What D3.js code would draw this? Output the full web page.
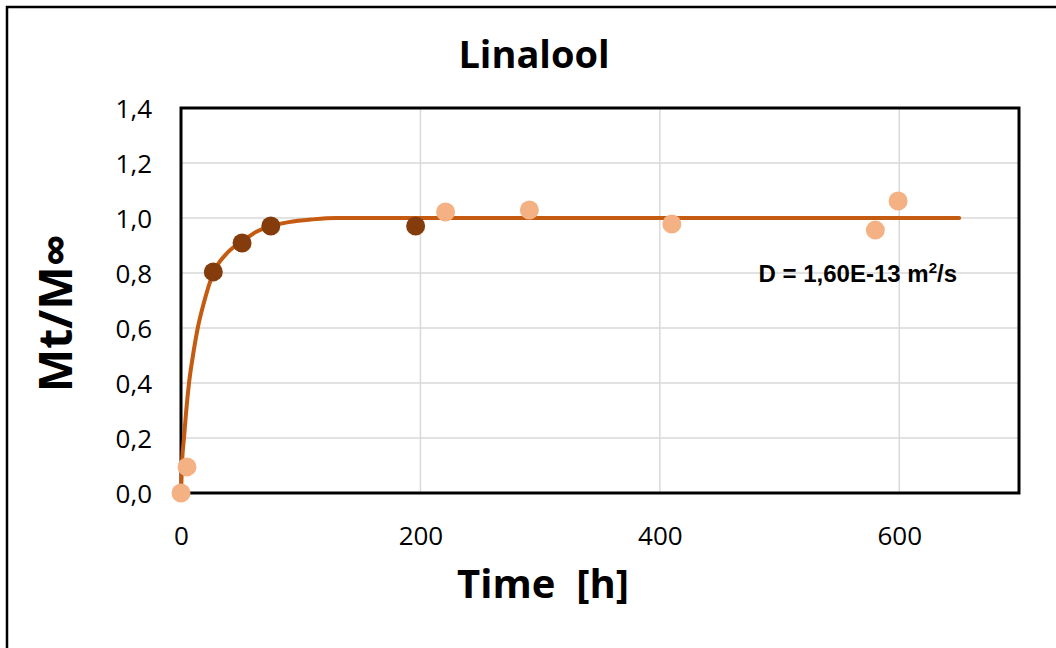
<!DOCTYPE html>
<html>
<head>
<meta charset="utf-8">
<script src="https://cdn.jsdelivr.net/npm/d3@7"></script>
<style>
  body { margin: 0; background: #fff; }
  svg { display: block; }
</style>
</head>
<body>
<div id="chart"></div>
<script>
// measured points (time h, Mt/Minf)
var lightPts = [[0, 0], [5, 0.095], [221, 1.022], [291, 1.029], [410, 0.978], [580, 0.956], [599, 1.062]];
var darkPts = [[27, 0.804], [51, 0.909], [75, 0.971], [196, 0.971]];
// fitted curve
var fitPts = [[0, 0], [1, 0.12], [2.5, 0.2], [4, 0.28], [6.7, 0.4], [10, 0.5], [14, 0.6], [19, 0.69],
  [27, 0.8], [38, 0.87], [51, 0.915], [63, 0.95], [75, 0.97], [90, 0.985], [110, 0.995], [130, 1.0], [650, 1.0]];
var xTicks = [0, 200, 400, 600];
var yTicks = [0, 0.2, 0.4, 0.6, 0.8, 1.0, 1.2, 1.4];

var width = 1056, height = 648;
var svg = d3.select('#chart').append('svg').attr('width', width).attr('height', height);

// outer frame
svg.append('rect').attr('x', 7).attr('y', 7).attr('width', 1100).attr('height', 700)
  .attr('fill', '#fff').attr('stroke', '#000').attr('stroke-width', 2.5);

var pLeft = 181, pTop = 108, pRight = 1019, pBottom = 493;
var x = d3.scaleLinear().domain([0, 700]).range([pLeft, pRight]);
var y = d3.scaleLinear().domain([0, 1.4]).range([pBottom, pTop]);

var font = '"Open Sans", sans-serif';

// gridlines
svg.append('g').selectAll('line').data(yTicks.slice(1)).enter().append('line')
  .attr('x1', pLeft).attr('x2', pRight).attr('y1', d => y(d)).attr('y2', d => y(d))
  .attr('stroke', '#d9d9d9').attr('stroke-width', 1.5);
svg.append('g').selectAll('line').data(xTicks.slice(1)).enter().append('line')
  .attr('y1', pTop).attr('y2', pBottom).attr('x1', d => x(d)).attr('x2', d => x(d))
  .attr('stroke', '#d9d9d9').attr('stroke-width', 1.5);

// tick labels via d3 axes
var xAxis = svg.append('g').attr('transform', `translate(0,${pBottom})`)
  .call(d3.axisBottom(x).tickValues(xTicks).tickSize(0).tickPadding(34).tickFormat(d3.format('d')));
var yAxis = svg.append('g').attr('transform', `translate(${pLeft},0)`)
  .call(d3.axisLeft(y).tickValues(yTicks).tickSize(0).tickPadding(29)
    .tickFormat(d => d3.format('.1f')(d).replace('.', ',')));
[xAxis, yAxis].forEach(a => {
  a.select('.domain').remove();
  a.selectAll('text').attr('font-family', font).attr('font-size', 26).attr('fill', '#000');
});
yAxis.selectAll('text').attr('dy', '0.35em');
xAxis.selectAll('text').attr('dy', '0.71em');

// plot frame
svg.append('rect').attr('x', pLeft).attr('y', pTop).attr('width', pRight - pLeft).attr('height', pBottom - pTop)
  .attr('fill', 'none').attr('stroke', '#000').attr('stroke-width', 3);

// fit curve
svg.append('path').datum(fitPts)
  .attr('d', d3.line().x(d => x(d[0])).y(d => y(d[1])).curve(d3.curveMonotoneX))
  .attr('fill', 'none').attr('stroke', '#c55a11').attr('stroke-width', 4).attr('stroke-linecap', 'round');

svg.append('g').selectAll('circle').data(lightPts).enter().append('circle')
  .attr('cx', d => x(d[0])).attr('cy', d => y(d[1])).attr('r', 9.5).attr('fill', '#f4b183');
svg.append('g').selectAll('circle').data(darkPts).enter().append('circle')
  .attr('cx', d => x(d[0])).attr('cy', d => y(d[1])).attr('r', 9.5).attr('fill', '#843c0c');

// titles
svg.append('text').attr('x', 534).attr('y', 68).attr('text-anchor', 'middle')
  .attr('font-family', font).attr('font-weight', 'bold').attr('font-size', 38).text('Linalool');
svg.append('text').attr('x', 543).attr('y', 598).attr('text-anchor', 'middle')
  .attr('font-family', font).attr('font-weight', 'bold').attr('font-size', 40)
  .attr('xml:space', 'preserve').text('Time  [h]');
svg.append('text').attr('transform', 'translate(72,313)rotate(-90)').attr('text-anchor', 'middle')
  .attr('font-family', font).attr('font-weight', 'bold').attr('font-size', 46).text('Mt/M∞');

var ann = svg.append('text').attr('x', 957).attr('y', 282).attr('text-anchor', 'end')
  .attr('font-family', '"Liberation Sans", Arial, sans-serif').attr('font-weight', 'bold').attr('font-size', 24);
ann.append('tspan').text('D = 1,60E-13 m');
ann.append('tspan').attr('font-size', 15).attr('dy', -9).text('2');
ann.append('tspan').attr('dy', 9).text('/s');
</script>
</body>
</html>
